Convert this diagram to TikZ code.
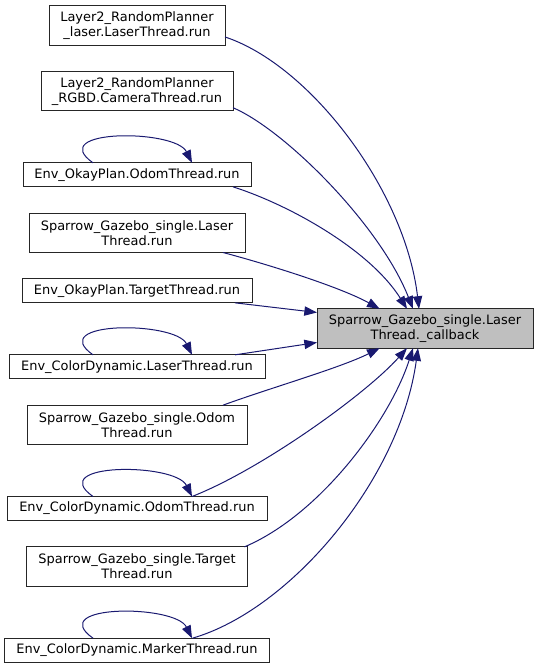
\documentclass[tikz,border=0pt]{standalone}
\usepackage{fontspec}
\setmainfont{DejaVu Sans}
\usepackage{xcolor}
\usepackage{tikz}
\usetikzlibrary{positioning,arrows.meta}
\definecolor{edgeblue}{RGB}{25,25,112}
\definecolor{calleegray}{RGB}{191,191,191}

\begin{document}
\begin{tikzpicture}[
  x=0.75pt, y=-0.75pt,
  font=\fontsize{9.7pt}{11.25pt}\selectfont,
  box/.style={draw=black!85, fill=white, line width=0.75pt, align=center, inner sep=2pt, outer sep=0pt, minimum height=18pt},
  twoline/.style={box, minimum height=29.5pt},
  callee/.style={twoline, fill=calleegray},
  flow/.style={-{Triangle[length=9.5pt,width=7pt]}, draw=edgeblue, line width=0.75pt}
]
\useasboundingbox (0,0) rectangle (539,667);

\node[twoline, minimum width=132pt] (laser2) at (137,25.5) {Layer2\_RandomPlanner\\\_laser.LaserThread.run};
\node[twoline, minimum width=144pt, below=19.75pt of laser2] (camera2) {Layer2\_RandomPlanner\\\_RGBD.CameraThread.run};
\node[box, minimum width=171pt, below=39pt of camera2] (okayodom) {Env\_OkayPlan.OdomThread.run};
\node[twoline, minimum width=162pt, below=19.75pt of okayodom] (sparlaser) {Sparrow\_Gazebo\_single.Laser\\Thread.run};
\node[box, minimum width=172.5pt, below=19.75pt of sparlaser] (okaytarget) {Env\_OkayPlan.TargetThread.run};
\node[box, minimum width=192pt, below=39pt of okaytarget] (cdlaser) {Env\_ColorDynamic.LaserThread.run};
\node[twoline, minimum width=165pt, below=19.75pt of cdlaser] (sparodom) {Sparrow\_Gazebo\_single.Odom\\Thread.run};
\node[box, minimum width=195pt, below=39pt of sparodom] (cdodom) {Env\_ColorDynamic.OdomThread.run};
\node[twoline, minimum width=165.75pt, below=19.75pt of cdodom] (spartarget) {Sparrow\_Gazebo\_single.Target\\Thread.run};
\node[box, minimum width=198.75pt, below=39pt of spartarget] (cdmarker) {Env\_ColorDynamic.MarkerThread.run};
\node[callee, minimum width=162pt] (callback) at (425,328.5) {Sparrow\_Gazebo\_single.Laser\\Thread.\_callback};

% callers above the callee
\draw[flow] ([yshift=-8.6pt]laser2.east) .. controls (310,65) and (405,190) .. ([xshift=-4.5pt]callback.north);
\draw[flow] ([yshift=-12.4pt]camera2.east) .. controls (285,130) and (380,225) .. ([xshift=-9pt]callback.north);
\draw[flow] ([xshift=-13.5pt]okayodom.south east) .. controls (290,205) and (370,250) .. ([xshift=-13.5pt]callback.north);
\draw[flow] ([xshift=-16.5pt]sparlaser.south east) .. controls (270,265) and (340,287) .. ([xshift=47pt]callback.north west);
\draw[flow] ([xshift=-12.75pt]okaytarget.south east) -- ([yshift=12pt]callback.west);
% callers below the callee
\draw[flow] ([xshift=-22.5pt]cdlaser.north east) -- ([yshift=-10.5pt]callback.west);
\draw[flow] ([xshift=-18pt]sparodom.north east) .. controls (270,388) and (340,368) .. ([xshift=47pt]callback.south west);
\draw[flow] ([xshift=-56.25pt]cdodom.north east) .. controls (260,470) and (365,395) .. ([xshift=-13.5pt]callback.south);
\draw[flow] ([xshift=-2.25pt]spartarget.north east) .. controls (320,515) and (390,420) .. ([xshift=-9pt]callback.south);
\draw[flow] ([xshift=-57.75pt]cdmarker.north east) .. controls (290,610) and (400,480) .. ([xshift=-5.25pt]callback.south);

% recursive calls
\foreach \n in {okayodom,cdlaser,cdodom,cdmarker}
  \draw[flow] ([xshift=-33pt]\n.north) .. controls ([xshift=-69pt,yshift=25.5pt]\n.north) and ([xshift=28.5pt,yshift=25.5pt]\n.north) .. ([xshift=41.25pt]\n.north);
\end{tikzpicture}
\end{document}
